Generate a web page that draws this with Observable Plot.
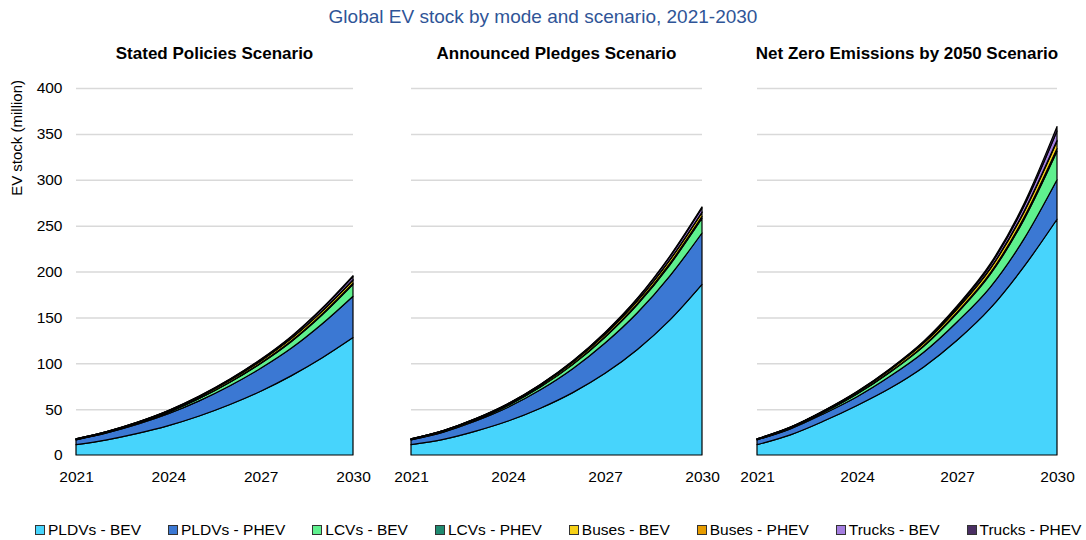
<!DOCTYPE html>
<html><head><meta charset="utf-8">
<script src="https://cdn.jsdelivr.net/npm/d3@7"></script>
<script src="https://cdn.jsdelivr.net/npm/@observablehq/plot@0.6"></script>
<style>
body{margin:0;background:#fff;font-family:"Liberation Sans",Arial,sans-serif;}
#wrap{position:relative;width:1086px;height:540px;overflow:hidden;background:#fff;}
.title{position:absolute;left:0;width:1086px;top:6px;text-align:center;font-size:19px;color:#2f5597;}
.ptitle{position:absolute;top:44px;width:500px;font-weight:bold;font-size:17px;color:#000;text-align:center;}
.panel{position:absolute;top:70px;}
.panel svg{overflow:visible;}
#legend{position:absolute;top:521px;left:35px;display:flex;gap:27px;font-size:15.5px;color:#000;}
#legend .item{display:flex;align-items:center;white-space:nowrap;}
#legend .sw{width:8px;height:8px;border:1px solid #333;margin-right:3px;}
</style></head>
<body>
<div id="wrap">
  <div class="title">Global EV stock by mode and scenario, 2021-2030</div>
  <div id="panels"></div>
  <div id="legend"></div>
</div>
<script>
const years = [2021, 2022, 2023, 2024, 2025, 2026, 2027, 2028, 2029, 2030];
const xTicks = [2021, 2024, 2027, 2030];
const yTicks = [0, 50, 100, 150, 200, 250, 300, 350, 400];
const seriesNames = ["PLDVs - BEV", "PLDVs - PHEV", "LCVs - BEV", "LCVs - PHEV", "Buses - BEV", "Buses - PHEV", "Trucks - BEV", "Trucks - PHEV"];
const seriesColors = ["#47d4fc", "#3b78d3", "#5ff08e", "#1f8a70", "#f7d117", "#e69c00", "#a47ee0", "#4a2f63"];
const scenarioTitles = ["Stated Policies Scenario", "Announced Pledges Scenario", "Net Zero Emissions by 2050 Scenario"];
const yAxisTitle = "EV stock (million)";

// Stated Policies Scenario
const pldvBevSteps   = [11.3, 16.5, 23.5, 32, 42.5, 55, 69.5, 86.5, 106, 128];
const pldvPhevSteps  = [5.2, 7.5, 10, 13, 16.5, 20.5, 25, 30, 37, 45];
const lcvBevSteps    = [0.3, 0.5, 0.9, 1.5, 2.5, 3.8, 5.3, 7.3, 9.8, 13];
const lcvPhevSteps   = [0.03, 0.06, 0.1, 0.16, 0.24, 0.35, 0.48, 0.65, 0.9, 1.2];
const busBevSteps    = [0.67, 0.85, 1.05, 1.3, 1.6, 1.9, 2.3, 2.7, 3.1, 3.5];
const busPhevSteps   = [0.03, 0.04, 0.06, 0.08, 0.11, 0.14, 0.17, 0.21, 0.25, 0.3];
const truckBevSteps  = [0.07, 0.13, 0.22, 0.35, 0.55, 0.8, 1.2, 1.7, 2.5, 3.5];
const truckPhevSteps = [0.01, 0.03, 0.06, 0.1, 0.15, 0.22, 0.32, 0.46, 0.7, 1];

// Announced Pledges Scenario
const pldvBevAps   = [11.3, 17, 26, 37, 51, 68, 89, 115, 147, 186];
const pldvPhevAps  = [5.2, 8, 11, 15, 20, 26, 33, 40, 48, 56];
const lcvBevAps    = [0.3, 0.6, 1.1, 1.9, 3, 4.5, 6.3, 8.8, 12, 16];
const lcvPhevAps   = [0.03, 0.07, 0.13, 0.22, 0.35, 0.52, 0.75, 1.05, 1.5, 2];
const busBevAps    = [0.67, 0.85, 1.1, 1.35, 1.7, 2.1, 2.6, 3.1, 3.8, 4.5];
const busPhevAps   = [0.03, 0.04, 0.06, 0.08, 0.11, 0.15, 0.2, 0.26, 0.33, 0.4];
const truckBevAps  = [0.07, 0.13, 0.23, 0.4, 0.65, 1, 1.5, 2.2, 3.2, 4.5];
const truckPhevAps = [0.01, 0.03, 0.06, 0.1, 0.15, 0.22, 0.32, 0.46, 0.7, 1];

// Net Zero Emissions by 2050 Scenario
const pldvBevNze   = [11.3, 22, 37, 54, 73, 96, 125, 160, 205, 257];
const pldvPhevNze  = [5.2, 6.5, 8, 9.5, 13, 16, 20, 23, 30, 43];
const lcvBevNze    = [0.3, 0.7, 1.5, 3, 4.5, 6.5, 9.5, 14, 21, 31];
const lcvPhevNze   = [0.03, 0.08, 0.15, 0.27, 0.45, 0.7, 1.05, 1.5, 2.2, 3];
const busBevNze    = [0.67, 0.9, 1.2, 1.6, 2.1, 2.7, 3.5, 4.6, 6, 8];
const busPhevNze   = [0.03, 0.05, 0.08, 0.12, 0.18, 0.26, 0.37, 0.5, 0.7, 1];
const truckBevNze  = [0.07, 0.14, 0.27, 0.48, 0.8, 1.3, 2.1, 3.4, 5.6, 10];
const truckPhevNze = [0.01, 0.04, 0.1, 0.2, 0.35, 0.6, 0.95, 1.5, 2.7, 5];

const scenarioSeries = [
  [pldvBevSteps, pldvPhevSteps, lcvBevSteps, lcvPhevSteps, busBevSteps, busPhevSteps, truckBevSteps, truckPhevSteps],
  [pldvBevAps, pldvPhevAps, lcvBevAps, lcvPhevAps, busBevAps, busPhevAps, truckBevAps, truckPhevAps],
  [pldvBevNze, pldvPhevNze, lcvBevNze, lcvPhevNze, busBevNze, busPhevNze, truckBevNze, truckPhevNze]
];

// layout of the three panels (svg left, svg width, margins)
const panelLayout = [
  {left: 0,   width: 370, ml: 76, mr: 17},
  {left: 380, width: 340, ml: 31, mr: 18},
  {left: 720, width: 366, ml: 37, mr: 29}
];

const fontFamily = '"Liberation Sans", Arial, sans-serif';
const panels = document.getElementById("panels");

scenarioSeries.forEach((seriesList, si) => {
  const rows = [];
  seriesList.forEach((vals, k) => {
    vals.forEach((v, j) => rows.push({year: years[j], series: seriesNames[k], value: v}));
  });
  const L = panelLayout[si];
  const marks = [
    Plot.gridY(yTicks.slice(1), {stroke: "#d9d9d9", strokeOpacity: 1, strokeWidth: 1.5}),
    Plot.areaY(rows, {x: "year", y: "value", z: "series", fill: "series", order: seriesNames,
      stroke: "#000", strokeWidth: 1.2, strokeLinejoin: "round", curve: "monotone-x"}),
    Plot.axisX(xTicks, {tickSize: 0, tickPadding: 15, tickFormat: d => String(d), fontSize: 15.5, fill: "#000"})
  ];
  if (si === 0) {
    marks.push(Plot.axisY(yTicks, {tickSize: 0, tickPadding: 14, fontSize: 15.5, fill: "#000", label: null}));
  }
  const chart = Plot.plot({
    width: L.width, height: 420,
    marginTop: 18, marginBottom: 35, marginLeft: L.ml, marginRight: L.mr,
    x: {domain: [2021, 2030], label: null},
    y: {domain: [0, 400], label: null, axis: si === 0 ? undefined : null},
    color: {domain: seriesNames, range: seriesColors},
    style: {fontFamily, fontSize: "15.5px", color: "#000", background: "transparent", overflow: "visible"},
    marks
  });
  const div = document.createElement("div");
  div.className = "panel";
  div.style.left = L.left + "px";
  div.appendChild(chart);
  panels.appendChild(div);

  if (si === 0) {
    d3.select(chart).append("text")
      .attr("transform", "translate(22,10) rotate(-90)")
      .attr("text-anchor", "end")
      .attr("font-size", 15)
      .attr("fill", "#000")
      .attr("font-family", fontFamily)
      .text(yAxisTitle);
  }

  const t = document.createElement("div");
  t.className = "ptitle";
  const center = L.left + L.ml + (L.width - L.ml - L.mr) / 2;
  t.style.left = (center - 250) + "px";
  t.textContent = scenarioTitles[si];
  document.getElementById("wrap").appendChild(t);
});

const legend = document.getElementById("legend");
seriesNames.forEach((name, i) => {
  const item = document.createElement("div");
  item.className = "item";
  const sw = document.createElement("span");
  sw.className = "sw";
  sw.style.background = seriesColors[i];
  item.appendChild(sw);
  const tx = document.createElement("span");
  tx.textContent = name;
  item.appendChild(tx);
  legend.appendChild(item);
});
</script>
</body></html>
